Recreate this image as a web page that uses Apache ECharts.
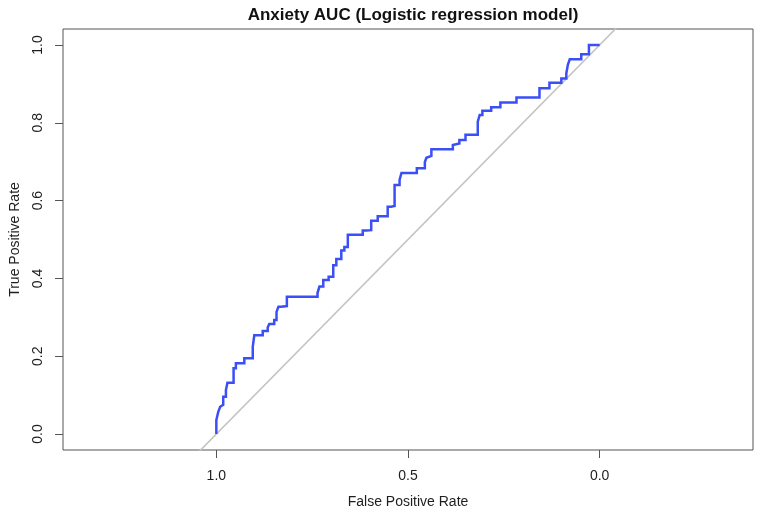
<!DOCTYPE html>
<html>
<head>
<meta charset="utf-8">
<script src="https://cdn.jsdelivr.net/npm/echarts@6/dist/echarts.min.js"></script>
<style>html,body{margin:0;padding:0;background:#fff;}#c{width:760px;height:514px;}</style>
</head>
<body>
<div id="c"></div>
<script>
// ROC curve vertices: specificity (x, plotted reversed) and sensitivity (y)
var specificity = [1.000,1.000,0.995,0.995,0.990,0.986,0.982,0.975,0.971,0.966,0.955,0.955,0.949,0.942,0.927,0.925,0.905,0.901,0.892,0.879,0.877,0.866,0.862,0.849,0.843,0.838,0.831,0.816,0.811,0.736,0.731,0.721,0.707,0.695,0.687,0.674,0.666,0.657,0.644,0.618,0.609,0.596,0.596,0.579,0.574,0.553,0.544,0.535,0.535,0.522,0.517,0.505,0.477,0.474,0.456,0.452,0.448,0.439,0.427,0.383,0.379,0.366,0.363,0.350,0.348,0.318,0.313,0.306,0.298,0.283,0.280,0.259,0.257,0.217,0.216,0.157,0.152,0.131,0.126,0.100,0.096,0.087,0.083,0.078,0.070,0.048,0.045,0.028,0.024,0.000];
var sensitivity = [0.000,0.028,0.036,0.057,0.062,0.070,0.075,0.096,0.113,0.132,0.132,0.156,0.169,0.182,0.182,0.195,0.195,0.224,0.254,0.254,0.265,0.265,0.274,0.283,0.293,0.314,0.327,0.329,0.353,0.353,0.363,0.379,0.396,0.404,0.434,0.450,0.472,0.481,0.512,0.512,0.523,0.524,0.548,0.548,0.560,0.560,0.584,0.586,0.632,0.640,0.653,0.671,0.671,0.683,0.683,0.699,0.710,0.715,0.732,0.732,0.743,0.747,0.756,0.756,0.769,0.769,0.803,0.820,0.831,0.831,0.840,0.840,0.852,0.852,0.865,0.865,0.889,0.889,0.903,0.903,0.914,0.914,0.927,0.949,0.963,0.963,0.976,0.976,1.000,1.000];
// reference diagonal (sensitivity = 1 - specificity), extended past the plot and clipped
var diagX = [1.1, -0.1];
var diagY = [-0.1, 1.1];
var xTicks = [1.0, 0.5, 0.0];
var yTicks = [0.0, 0.2, 0.4, 0.6, 0.8, 1.0];
var titleText = 'Anxiety AUC (Logistic regression model)';
var xName = 'False Positive Rate';
var yName = 'True Positive Rate';

function pairs(xs, ys) { return xs.map(function (x, i) { return [x, ys[i]]; }); }

var chart = echarts.init(document.getElementById('c'), null, {renderer: 'canvas'});
var txt = '#1e1e1e';
var font = 'Liberation Sans, Arial, Helvetica, sans-serif';
chart.setOption({
  animation: false,
  backgroundColor: '#fff',
  title: {
    text: titleText, left: 408, top: 2, textAlign: 'center',
    textStyle: {fontFamily: font, fontSize: 17, fontWeight: 'bold', color: '#111'}
  },
  grid: {left: 63, right: 7, top: 29, bottom: 64, show: true, borderColor: '#555', borderWidth: 1, containLabel: false},
  xAxis: {
    type: 'value', inverse: true, min: -0.4, max: 1.4, position: 'bottom',
    name: xName, nameLocation: 'middle', nameGap: 45,
    nameTextStyle: {fontFamily: font, fontSize: 14, color: txt},
    axisLine: {show: false, onZero: false},
    splitLine: {show: false},
    axisTick: {show: true, inside: false, customValues: xTicks, length: 8, lineStyle: {color: '#555'}},
    axisLabel: {customValues: xTicks, margin: 19, fontFamily: font, fontSize: 14, color: txt,
      formatter: function (v) { return v.toFixed(1); }}
  },
  yAxis: {
    type: 'value', min: -0.041, max: 1.041, position: 'left',
    name: yName, nameLocation: 'middle', nameGap: 41, nameRotate: 90,
    nameTextStyle: {fontFamily: font, fontSize: 14, color: txt},
    axisLine: {show: false, onZero: false},
    splitLine: {show: false},
    axisTick: {show: true, inside: false, customValues: yTicks, length: 8, lineStyle: {color: '#555'}},
    axisLabel: {customValues: yTicks, margin: 18, rotate: 90, fontFamily: font, fontSize: 14, color: txt,
      formatter: function (v) { return v.toFixed(1); }}
  },
  series: [
    {
      type: 'line', data: pairs(diagX, diagY), showSymbol: false, clip: true,
      lineStyle: {color: '#c4c4c4', width: 1.6}, silent: true
    },
    {
      type: 'line', data: pairs(specificity, sensitivity), showSymbol: false, clip: true,
      step: 'start',
      lineStyle: {color: '#3b4ff7', width: 2.5, join: 'miter'}
    }
  ]
});
</script>
</body>
</html>
